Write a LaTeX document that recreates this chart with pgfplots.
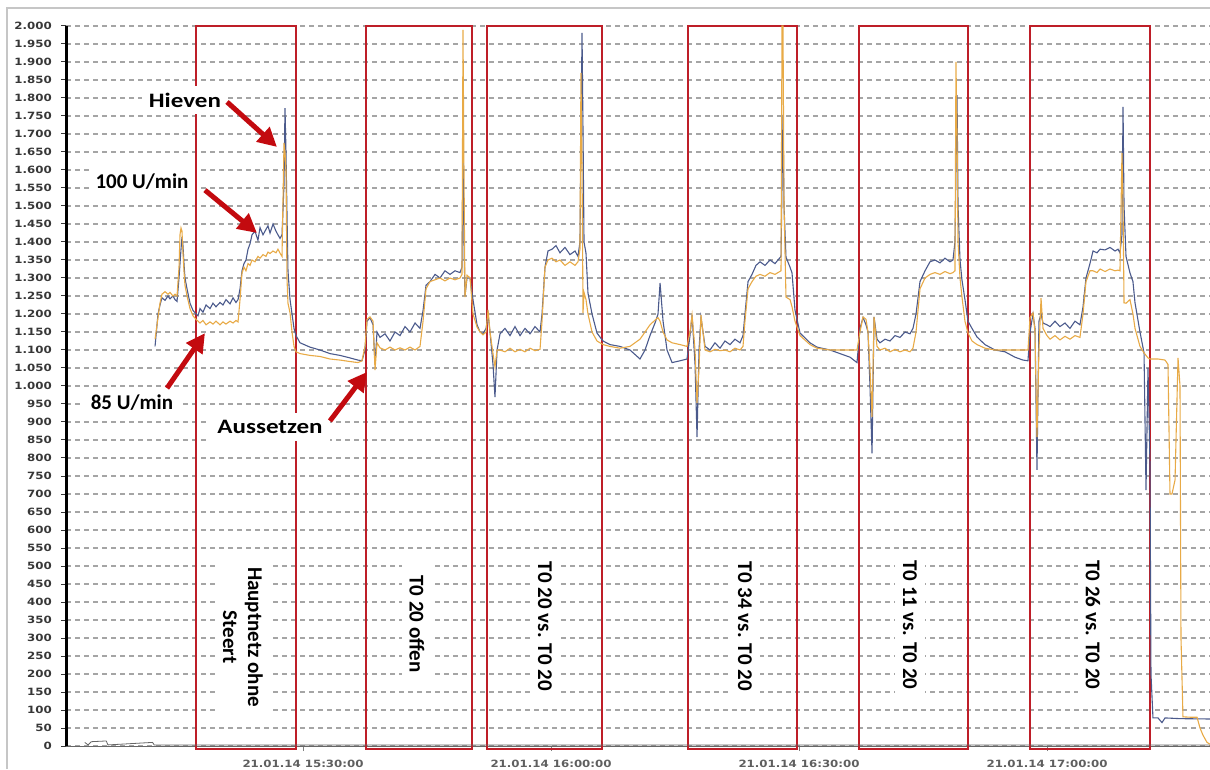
\documentclass[border=0pt]{standalone}
\usepackage{pgfplots}
\pgfplotsset{compat=1.18}
\usepackage{fontspec}
\setmainfont{Carlito}
\newfontfamily\widefont[FakeStretch=1.22]{Carlito}
\newfontfamily\tickfont[FakeStretch=1.18]{DejaVu Sans}
\usetikzlibrary{arrows.meta}
\definecolor{boxred}{RGB}{190,30,40}
\definecolor{arrred}{RGB}{195,10,15}
\definecolor{bluel}{RGB}{75,90,140}
\definecolor{orangel}{RGB}{232,170,70}
\definecolor{gridc}{RGB}{165,165,165}
\definecolor{tickc}{RGB}{55,55,55}
\begin{document}
\begin{tikzpicture}
\draw[gray!45, line width=2pt] (7pt,0pt) -- (7pt,761pt) -- (1210pt,761pt);
\begin{axis}[
  at={(66pt,23pt)}, anchor=south west,
  width=1144pt, height=720pt, scale only axis,
  xmin=1.33, xmax=139.71, ymin=0, ymax=2000,
  axis lines*=left,
  clip=false,
  y axis line style={black, line width=3pt},
  x axis line style={gray!80!black, line width=1pt},
  ymajorgrids,
  major grid style={gridc, line width=1.1pt, dash pattern=on 5pt off 4pt},
  ytick={0,50,...,2000},
  xtick={30,60,90,120},
  xticklabels={21.01.14 15:30:00,21.01.14 16:00:00,21.01.14 16:30:00,21.01.14 17:00:00},
  tick align=outside,
  major tick length=5pt,
  ytick style={tickc, line width=1pt},
  xtick style={gray, line width=1pt},
  scaled y ticks=false,
  /pgf/number format/assume math mode=true,
  /pgf/number format/1000 sep={.},
  yticklabel style={font=\tickfont\bfseries\fontsize{10}{12}\selectfont, text=tickc, anchor=east, inner sep=0pt},
  yticklabel shift=9pt,
  xticklabel style={font=\tickfont\bfseries\fontsize{10}{12}\selectfont, text=tickc!80, anchor=north, inner sep=0pt},
  xticklabel shift=9pt,
]
% red boxes
\draw[boxred, line width=2pt] (axis cs:17.06,-8) rectangle (axis cs:29.15,2000);
\draw[boxred, line width=2pt] (axis cs:37.62,-8) rectangle (axis cs:50.44,2000);
\draw[boxred, line width=2pt] (axis cs:52.26,-8) rectangle (axis cs:66.17,2000);
\draw[boxred, line width=2pt] (axis cs:76.57,-8) rectangle (axis cs:89.76,2000);
\draw[boxred, line width=2pt] (axis cs:97.25,-8) rectangle (axis cs:110.44,2000);
\draw[boxred, line width=2pt] (axis cs:117.94,-8) rectangle (axis cs:132.46,2000);

% baseline series
\addplot[gray!80!black, line width=0.8pt] coordinates {
(3.6,10) (4.0,3) (4.4,12) (6.2,14) (6.4,3) (11.8,10) (12.0,3) (139.71,3)
};

% blue series
\addplot[bluel, line width=1.1pt] coordinates {
(12.10,1110) (12.46,1200) (12.70,1225) (12.94,1245) (13.31,1238) (13.67,1250) (13.91,1242) (14.27,1250) (14.52,1240) (14.76,1235)
(15.00,1300) (15.24,1380) (15.36,1414) (15.48,1390) (15.60,1340) (15.72,1300) (15.97,1270) (16.33,1230) (16.69,1210) (17.06,1200)
(17.30,1195) (17.54,1215) (17.90,1205) (18.27,1225) (18.75,1215) (19.11,1230) (19.47,1220) (19.96,1232) (20.32,1225) (20.68,1240)
(21.17,1228) (21.53,1245) (21.89,1232) (22.14,1240) (22.38,1270) (22.62,1320) (22.86,1340) (23.10,1350) (23.35,1380) (23.59,1395)
(23.83,1420) (24.19,1430) (24.55,1405) (24.80,1440) (25.16,1420) (25.52,1435) (25.76,1445) (26.01,1425) (26.37,1450) (26.73,1430)
(26.97,1420) (27.22,1410) (27.46,1420) (27.70,1560) (27.82,1772) (27.94,1650) (28.06,1480) (28.18,1320) (28.43,1240) (28.67,1200)
(28.91,1160) (29.15,1140) (29.64,1120) (30.84,1108) (32.05,1100) (33.26,1090) (34.47,1085) (35.68,1078) (36.65,1072) (37.13,1070)
(37.50,1100) (37.74,1180) (38.10,1190) (38.47,1170) (38.71,1060) (38.95,1150) (39.31,1135) (39.92,1145) (40.52,1125) (41.13,1150)
(41.73,1140) (42.34,1165) (42.94,1150) (43.55,1175) (44.15,1160) (44.52,1210) (44.88,1280) (45.36,1290) (45.97,1310) (46.57,1300)
(47.17,1320) (47.78,1310) (48.38,1320) (48.99,1315) (49.23,1330) (49.35,1656) (49.47,1400) (49.59,1250) (49.84,1300) (50.20,1300)
(50.56,1240) (51.05,1170) (51.41,1150) (51.77,1145) (52.14,1160) (52.38,1200) (52.62,1150) (52.98,1060) (53.22,969) (53.47,1100)
(53.83,1145) (54.43,1160) (55.04,1140) (55.64,1165) (56.25,1140) (56.85,1160) (57.46,1145) (58.06,1165) (58.67,1150) (58.91,1200)
(59.27,1330) (59.63,1375) (60.12,1380) (60.60,1390) (61.08,1370) (61.69,1385) (62.29,1365) (62.90,1375) (63.26,1360) (63.50,1400)
(63.75,1981) (63.87,1700) (63.99,1400) (64.23,1369) (64.47,1258) (64.96,1200) (65.56,1147) (66.29,1125) (67.13,1115) (68.34,1110)
(69.55,1100) (70.76,1075) (71.37,1100) (71.97,1140) (72.58,1175) (72.94,1200) (73.19,1286) (73.55,1180) (74.03,1100) (74.64,1065)
(75.60,1070) (76.45,1075) (76.81,1140) (77.06,1197) (77.42,1060) (77.66,858) (77.90,1100) (78.14,1190) (78.63,1110) (79.23,1100)
(79.83,1120) (80.44,1105) (81.04,1125) (81.65,1115) (82.25,1130) (82.86,1120) (83.22,1140) (83.46,1200) (83.83,1290) (84.31,1310)
(84.79,1335) (85.28,1345) (85.88,1335) (86.49,1350) (87.09,1340) (87.45,1350) (87.82,1360) (88.06,1753) (88.18,1500) (88.42,1358)
(88.91,1330) (89.15,1314) (89.51,1211) (90.12,1147) (91.32,1120) (92.17,1108) (93.74,1100) (94.95,1090) (96.17,1080) (97.01,1065)
(97.37,1160) (97.74,1190) (98.10,1170) (98.34,1150) (98.58,1000) (98.83,813) (99.07,1192) (99.43,1130) (99.79,1120) (100.40,1130)
(101.00,1125) (101.61,1140) (102.21,1135) (102.82,1150) (103.42,1145) (103.78,1160) (104.15,1200) (104.63,1290) (105.24,1320) (105.84,1345)
(106.44,1350) (107.05,1342) (107.65,1355) (108.26,1345) (108.62,1350) (108.86,1400) (109.11,1808) (109.23,1500) (109.47,1350) (109.71,1294)
(110.07,1240) (110.44,1180) (110.92,1160) (111.53,1136) (112.49,1115) (113.70,1100) (114.91,1095) (116.12,1080) (117.09,1072) (117.69,1070)
(117.94,1150) (118.30,1200) (118.54,1160) (118.78,767) (119.02,1180) (119.27,1200) (119.51,1175) (119.99,1170) (120.36,1165) (120.96,1180)
(121.56,1165) (122.17,1175) (122.77,1160) (123.38,1180) (123.98,1170) (124.35,1220) (124.71,1300) (125.19,1340) (125.56,1375) (126.04,1370)
(126.41,1380) (127.01,1378) (127.61,1385) (128.22,1375) (128.58,1380) (128.82,1370) (129.06,1420) (129.19,1775) (129.31,1500) (129.55,1360)
(130.03,1314) (130.39,1290) (130.64,1231) (131.24,1150) (131.73,1092) (131.85,900) (131.97,711) (132.21,1050) (132.45,786) (132.57,200)
(132.81,78) (133.42,78) (133.90,65) (134.27,78) (136.08,76) (139.71,75)
};

% orange series
\addplot[orangel, line width=1.1pt] coordinates {
(12.10,1130) (12.46,1190) (12.70,1230) (12.94,1255) (13.31,1262) (13.67,1255) (13.91,1260) (14.27,1250) (14.52,1255) (14.76,1250)
(15.00,1330) (15.12,1420) (15.24,1439) (15.36,1430) (15.48,1370) (15.60,1320) (15.72,1280) (15.97,1250) (16.33,1215) (16.69,1195)
(17.06,1185) (17.30,1180) (17.54,1175) (17.90,1182) (18.27,1170) (18.75,1178) (19.11,1172) (19.47,1180) (19.96,1170) (20.32,1178)
(20.68,1172) (21.17,1180) (21.53,1175) (21.89,1182) (22.14,1178) (22.38,1240) (22.62,1314) (22.86,1330) (23.10,1320) (23.35,1340)
(23.59,1335) (23.83,1350) (24.19,1345) (24.55,1360) (24.80,1355) (25.16,1365) (25.52,1360) (25.76,1372) (26.01,1368) (26.37,1375)
(26.73,1370) (26.97,1380) (27.22,1369) (27.46,1360) (27.70,1675) (27.82,1650) (27.94,1600) (28.06,1300) (28.18,1230) (28.43,1203)
(28.67,1150) (28.91,1110) (29.15,1095) (29.64,1090) (30.84,1085) (32.05,1082) (33.26,1075) (34.47,1072) (35.68,1068) (36.65,1065)
(37.13,1070) (37.50,1110) (37.74,1185) (38.10,1192) (38.47,1180) (38.71,1044) (38.95,1120) (39.31,1106) (39.92,1100) (40.52,1108)
(41.13,1100) (41.73,1106) (42.34,1100) (42.94,1108) (43.55,1100) (44.15,1110) (44.52,1180) (44.88,1270) (45.36,1290) (45.97,1295)
(46.57,1300) (47.17,1292) (47.78,1300) (48.38,1295) (48.99,1300) (49.23,1310) (49.35,1989) (49.47,1600) (49.59,1247) (49.84,1308)
(50.20,1300) (50.56,1200) (51.05,1164) (51.41,1150) (51.77,1142) (52.14,1150) (52.38,1211) (52.62,1150) (52.98,1090) (53.22,1053)
(53.47,1100) (53.83,1100) (54.43,1095) (55.04,1105) (55.64,1095) (56.25,1102) (56.85,1095) (57.46,1105) (58.06,1098) (58.67,1102)
(58.91,1180) (59.27,1330) (59.63,1350) (60.12,1355) (60.60,1345) (61.08,1350) (61.69,1335) (62.29,1345) (62.90,1335) (63.26,1345)
(63.50,1380) (63.62,1870) (63.75,1600) (63.87,1203) (63.99,1260) (64.23,1240) (64.47,1200) (64.96,1150) (65.56,1125) (66.29,1115)
(67.13,1110) (68.34,1105) (69.55,1110) (70.76,1130) (71.37,1150) (71.97,1170) (72.58,1183) (72.94,1190) (73.19,1180) (73.55,1150)
(74.03,1128) (74.64,1120) (75.60,1115) (76.45,1110) (76.81,1150) (77.06,1197) (77.42,1100) (77.66,953) (77.90,1050) (78.14,1197)
(78.63,1100) (79.23,1095) (79.83,1102) (80.44,1098) (81.04,1100) (81.65,1095) (82.25,1105) (82.86,1100) (83.22,1110) (83.46,1180)
(83.83,1270) (84.31,1290) (84.79,1305) (85.28,1310) (85.88,1305) (86.49,1315) (87.09,1310) (87.45,1315) (87.82,1320) (87.94,2000)
(88.06,2000) (88.18,1500) (88.42,1247) (88.91,1240) (89.15,1220) (89.51,1180) (90.12,1140) (91.32,1115) (92.17,1105) (93.74,1100)
(94.95,1100) (96.17,1100) (97.01,1100) (97.37,1150) (97.74,1192) (98.10,1185) (98.34,1150) (98.58,1050) (98.83,914) (99.07,1192)
(99.43,1110) (99.79,1100) (100.40,1105) (101.00,1095) (101.61,1102) (102.21,1095) (102.82,1100) (103.42,1095) (103.78,1105) (104.15,1150)
(104.63,1270) (105.24,1300) (105.84,1310) (106.44,1315) (107.05,1310) (107.65,1318) (108.26,1312) (108.62,1315) (108.86,1320) (108.98,1900)
(109.11,1700) (109.23,1400) (109.47,1300) (109.71,1247) (110.07,1180) (110.44,1147) (110.92,1125) (111.53,1115) (112.49,1105) (113.70,1100)
(114.91,1100) (116.12,1100) (117.09,1100) (117.69,1100) (117.94,1190) (118.30,1203) (118.54,1150) (118.78,858) (119.02,1100) (119.27,1244)
(119.51,1160) (119.99,1140) (120.36,1130) (120.96,1140) (121.56,1128) (122.17,1138) (122.77,1130) (123.38,1140) (123.98,1135) (124.35,1200)
(124.71,1290) (125.19,1320) (125.56,1320) (126.04,1315) (126.41,1325) (127.01,1318) (127.61,1325) (128.22,1320) (128.58,1322) (128.82,1320)
(129.06,1647) (129.19,1500) (129.31,1231) (129.55,1230) (130.03,1240) (130.39,1200) (130.64,1160) (131.24,1110) (131.73,1092) (132.21,1078)
(132.45,1075) (133.42,1075) (134.27,1072) (134.63,1060) (134.87,700) (135.11,700) (135.48,739) (135.84,1078) (136.08,1000) (136.20,300)
(136.44,81) (137.29,80) (138.14,80) (138.50,50) (138.86,30) (139.35,10) (139.71,5)
};

% box labels
\tikzset{boxlab/.style={rotate=-90, fill=white, align=center, font=\bfseries\fontsize{21}{25}\selectfont, inner xsep=10pt, inner ysep=8pt}}
\node[boxlab] at (axis cs:22.74,303) {Hauptnetz ohne\\Steert};
\node[boxlab] at (axis cs:43.79,339) {T0 20 offen};
\node[boxlab] at (axis cs:59.27,332) {T0 20 vs. T0 20};
\node[boxlab] at (axis cs:83.46,332) {T0 34 vs. T0 20};
\node[boxlab] at (axis cs:103.42,336) {T0 11 vs. T0 20};
\node[boxlab] at (axis cs:125.56,336) {T0 26 vs. T0 20};

% annotations
\tikzset{ann/.style={fill=white, font=\bfseries\fontsize{21}{25}\selectfont, inner sep=7pt},
         annw/.style={fill=white, font=\widefont\bfseries\fontsize{20.5}{25}\selectfont, inner sep=7pt},
         arr/.style={arrred, line width=5pt, -{Triangle[length=19pt,width=19pt]}}}
\node[annw] at (axis cs:15.72,1794) {Hieven};
\node[ann] at (axis cs:10.52,1567) {100 U/min};
\node[ann] at (axis cs:9.31,953) {85 U/min};
\node[annw] at (axis cs:26.01,886) {Aussetzen};
\draw[arr] (axis cs:20.81,1789) -- (axis cs:26.85,1664);
\draw[arr] (axis cs:18.14,1544) -- (axis cs:24.43,1425);
\draw[arr] (axis cs:13.55,994) -- (axis cs:18.14,1147);
\draw[arr] (axis cs:33.26,903) -- (axis cs:37.74,1039);
\end{axis}
\pgfresetboundingbox
\path (0pt,0pt) rectangle (1210pt,769pt);
\end{tikzpicture}
\end{document}
